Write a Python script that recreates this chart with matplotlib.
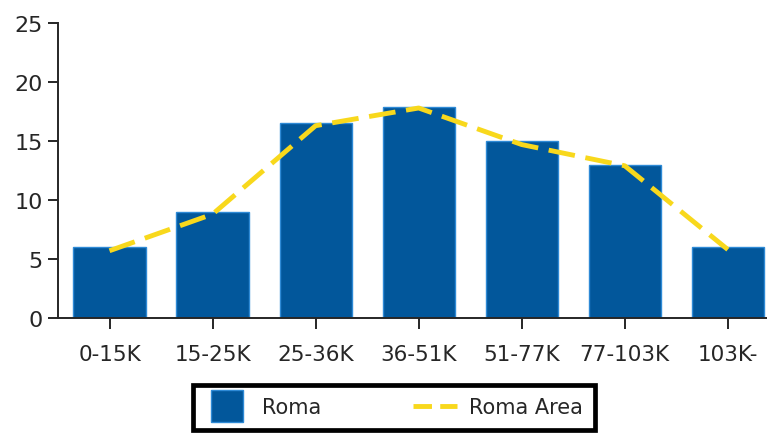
import matplotlib
matplotlib.use('Agg')
import matplotlib.pyplot as plt
from matplotlib.lines import Line2D

# income brackets and shares (%)
categories = ['0-15K', '15-25K', '25-36K', '36-51K', '51-77K', '77-103K', '103K-']
roma = [6.0, 9.0, 16.5, 17.9, 15.0, 13.0, 6.0]
roma_area = [5.7, 8.8, 16.3, 17.8, 14.7, 12.9, 5.8]

bar_color = '#02579b'
bar_edge = '#2e8ad6'
line_color = '#f8d81c'
ink = '#262626'

plt.rcParams['font.family'] = ['DejaVu Sans']

fig = plt.figure(figsize=(7.67, 4.35), dpi=100)
ax = fig.add_axes([0.0756, 0.2667, 0.9244, 0.678])

x = list(range(len(categories)))
ax.bar(x, roma, width=0.7, color=bar_color, edgecolor=bar_edge, linewidth=1.0, zorder=2)
ax.plot(x, roma_area, color=line_color, linewidth=3.5,
        linestyle=(0, (5.5, 2.2)), zorder=3)

ax.set_xlim(-0.5, 6.38)
ax.set_ylim(0, 25)
ax.set_yticks([0, 5, 10, 15, 20, 25])
ax.set_xticks(x)
ax.set_xticklabels(categories)

for side in ['top', 'right']:
    ax.spines[side].set_visible(False)
for side in ['left', 'bottom']:
    ax.spines[side].set_color(ink)
    ax.spines[side].set_linewidth(1.4)

ax.tick_params(axis='y', length=7, width=1.4, color=ink, labelsize=16,
               labelcolor=ink, pad=4)
ax.tick_params(axis='x', length=8, width=1.4, color=ink, labelsize=15.5,
               labelcolor=ink, pad=11)

handles = [
    Line2D([], [], marker='s', markersize=23, markerfacecolor=bar_color,
           markeredgecolor=bar_edge, linestyle='none'),
    Line2D([], [], color=line_color, linewidth=3.5, linestyle=(0, (3.8, 1.7))),
]
leg = fig.legend(handles, ['Roma', 'Roma Area'], loc='center',
                 bbox_to_anchor=(0.514, 0.062), ncol=2, fontsize=15,
                 frameon=True, fancybox=False, framealpha=1.0, handlelength=2.1,
                 columnspacing=4.4, handletextpad=0.6, borderpad=0.6,
                 borderaxespad=0)
leg.get_frame().set_edgecolor('black')
leg.get_frame().set_linewidth(3.4)
for t in leg.get_texts():
    t.set_color(ink)

fig.savefig('out.png', dpi=100)
